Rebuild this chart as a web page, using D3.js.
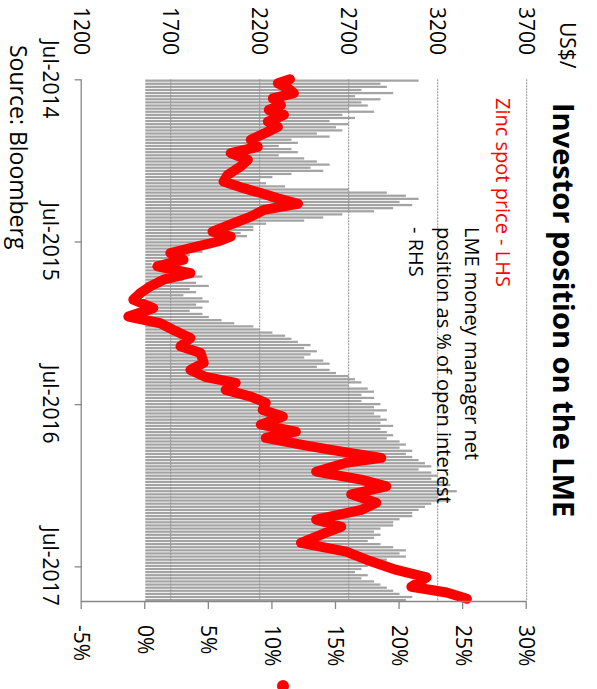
<!DOCTYPE html>
<html><head><meta charset="utf-8">
<script src="https://cdn.jsdelivr.net/npm/d3@7"></script>
<style>body{margin:0;background:#fff}svg{display:block}</style>
</head><body>
<svg id="c" width="597" height="689"></svg>
<script>
// ---------- DATA ----------
const title = "Investor position on the LME";
const leftUnit = "US$/";
const priceLabel = "Zinc spot price - LHS";
const netLabel = ["LME money manager net", "position as % of open interest", "- RHS"];
const sourceText = "Source: Bloomberg";
const leftTicks = [1200, 1700, 2200, 2700, 3200, 3700];
const rightTicks = [-5, 0, 5, 10, 15, 20, 25, 30];
const dateTicks = ["2014-07-01", "2015-07-01", "2016-07-01", "2017-07-01"];
const dateTickLabels = ["Jul-2014", "Jul-2015", "Jul-2016", "Jul-2017"];

// weekly (Fridays) LME money manager net position, % of open interest
const netFirstWeek = "2014-07-04";
const netPosition = [
21.5,18.5,19,17,19.5,16.5,18.5,17,17.5,16,18,15.5,16.5,14.5,16,15,15.5,13.5,14.5,11.5,
12,10.5,11.5,12,10.5,12.5,13.5,14.5,13,14,11.5,10,9,9.5,11,16,19,20.5,21.5,20,
21,19.5,18,15.5,14,12.5,9.5,8.5,8.5,7.5,8,6,5,4.5,3.5,4.5,3.5,2.5,1.5,0.5,
1,2.5,3.5,4.5,3,4,5,3.5,4,3,4.5,5,4,4.5,3.5,4.5,5,6,7,8.5,
9,10,11,11.5,12,13,12.5,13.5,13,12.5,14,14.5,13.5,14.5,15,16,16.5,17,16,17.5,
18,17,18,17,18.5,18,19,18,18.5,19,18.5,19.5,18.5,19,19.5,19,20,20.5,20,21,
20.5,21,21.5,22,22.5,21.5,22.5,23,22.5,23.5,24,23,24.5,23.5,23,24,22.5,22,21.5,21,
21,20,19.5,19.5,18.5,18,18.5,18,17.5,18.5,19.5,20.5,20,20.5,19,18,17.5,17,16.5,17.5,
17,18,18.5,19,19.5,20,21,20.5
];

// zinc spot price, US$/t
const priceDates = [
"2014-07-01","2014-07-10","2014-07-21","2014-08-01","2014-08-13","2014-08-28","2014-09-08","2014-09-19",
"2014-10-04","2014-10-16","2014-10-27","2014-11-14","2014-11-30","2014-12-14","2014-12-29","2015-01-13",
"2015-02-01","2015-02-16","2015-03-03","2015-03-14","2015-03-26","2015-04-07","2015-04-21","2015-05-06",
"2015-05-21","2015-06-09","2015-06-20","2015-07-01","2015-07-16","2015-07-27","2015-08-11","2015-08-26",
"2015-09-10","2015-09-25","2015-10-10","2015-10-25","2015-11-09","2015-11-28","2015-12-17","2016-01-01",
"2016-01-16","2016-02-03","2016-02-22","2016-03-08","2016-03-30","2016-04-15","2016-05-01","2016-05-14",
"2016-05-30","2016-06-14","2016-06-28","2016-07-14","2016-07-29","2016-08-16","2016-09-01","2016-09-15",
"2016-09-30","2016-10-12","2016-10-30","2016-11-10","2016-11-30","2016-12-18","2017-01-02","2017-01-20",
"2017-02-08","2017-02-24","2017-03-18","2017-04-03","2017-04-16","2017-05-09","2017-05-29","2017-06-16",
"2017-07-09","2017-07-26","2017-08-16","2017-08-29","2017-09-12"
];
const priceValues = [
2370,2302,2358,2392,2274,2319,2251,2336,
2246,2302,2246,2150,2189,2037,2133,2093,
2020,1997,2110,2206,2302,2415,2223,2150,
2054,1935,2037,1964,1811,1698,1772,1625,
1811,1659,1585,1529,1490,1602,1462,1642,
1715,1811,1755,1868,1885,1811,1896,2065,
2009,2150,2234,2217,2330,2206,2403,2234,
2432,2601,2883,2686,2517,2770,2911,2714,
2855,2770,2517,2658,2573,2432,2686,2799,
2968,3137,3052,3250,3364
];

// ---------- CHART (drawn landscape, then rotated 90° clockwise) ----------
const W = 689, H = 597;
const parse = d3.timeParse("%Y-%m-%d");
const svg = d3.select("#c");
const g = svg.append("g").attr("transform", `translate(${H},0) rotate(90)`);
const FONT = "'Open Sans', 'DejaVu Sans', sans-serif";

const x = d3.scaleTime().domain([parse("2014-07-01"), parse("2017-09-17")]).range([79.3, 601]);
const yL = d3.scaleLinear().domain([1200, 3700]).range([515.3, 70.3]);
const yR = d3.scaleLinear().domain([-5, 30]).range([515.3, 70.3]);

const first = parse(netFirstWeek);
const weeks = d3.timeFriday.range(first, d3.timeDay.offset(first, 7 * netPosition.length)).slice(0, netPosition.length);
const step = x(weeks[1]) - x(weeks[0]);
const bw = step * 0.72;

// bars
g.append("g").selectAll("rect").data(netPosition).join("rect")
  .attr("x", (d, i) => x(weeks[i]) - bw / 2)
  .attr("width", bw)
  .attr("y", d => Math.min(yR(d), yR(0)))
  .attr("height", d => Math.abs(yR(0) - yR(d)))
  .attr("fill", "#a3a3a3");

// gridlines (left axis)
g.append("g").selectAll("line").data(leftTicks.slice(1)).join("line")
  .attr("x1", 79.3).attr("x2", 601)
  .attr("y1", d => yL(d)).attr("y2", d => yL(d))
  .attr("stroke", "#8f8f8f").attr("stroke-width", 1).attr("stroke-dasharray", "2,1");

// price line
const pts = priceDates.map((d, i) => [parse(d), priceValues[i]]);
g.append("path").datum(pts)
  .attr("d", d3.line().x(d => x(d[0])).y(d => yL(d[1])))
  .attr("fill", "none").attr("stroke", "#ff0000").attr("stroke-width", 10)
  .attr("stroke-linejoin", "round").attr("stroke-linecap", "round");

// x axis
const xAxis = d3.axisBottom(x)
  .tickValues(dateTicks.map(parse))
  .tickSize(7).tickSizeOuter(0).tickFormat("");
const xg = g.append("g").attr("transform", `translate(0,${yR(-5)})`).call(xAxis);
xg.selectAll("path,line").attr("stroke", "#868686").attr("stroke-width", 1.3);
g.append("g").selectAll("text").data(dateTicks).join("text")
  .attr("x", d => x(parse(d))).attr("y", 554)
  .attr("text-anchor", "middle")
  .style("font-family", FONT).style("font-size", "21px").attr("fill", "#000")
  .text((d, i) => dateTickLabels[i]);

// right axis
const rAxis = d3.axisRight(yR).tickValues(rightTicks).tickSize(8).tickSizeOuter(0).tickFormat("");
const rg = g.append("g").attr("transform", `translate(601,0)`).call(rAxis);
rg.selectAll("path,line").attr("stroke", "#868686").attr("stroke-width", 1.3);
g.append("g").selectAll("text").data(rightTicks).join("text")
  .attr("x", 625).attr("y", d => yR(d)).attr("dy", "0.36em")
  .style("font-family", FONT).style("font-size", "21px").attr("fill", "#000")
  .text(d => d + "%");

// left axis labels
g.append("g").selectAll("text").data(leftTicks).join("text")
  .attr("x", 55).attr("y", d => yL(d)).attr("dy", "0.36em")
  .attr("text-anchor", "end")
  .style("font-family", FONT).style("font-size", "21px").attr("fill", "#000")
  .text(d => d);

// texts
g.append("text").attr("x", 22).attr("y", 37).text(leftUnit)
  .style("font-family", FONT).style("font-size", "21px");
g.append("text").attr("x", 103).attr("y", 44).text(title)
  .style("font-family", FONT).style("font-size", "29px").style("font-weight", "bold");
g.append("text").attr("x", 98).attr("y", 101).text(priceLabel)
  .style("font-family", FONT).style("font-size", "20px").attr("fill", "#ff0000");
g.append("g").selectAll("text").data(netLabel).join("text")
  .attr("x", 227).attr("y", (d, i) => 132 + i * 28)
  .style("font-family", FONT).style("font-size", "20px").attr("fill", "#000")
  .text(d => d);
g.append("text").attr("x", 45).attr("y", 587).text(sourceText)
  .style("font-family", FONT).style("font-size", "23px");
g.append("circle").attr("cx", 686).attr("cy", 314).attr("r", 6).attr("fill", "#ff0000");
</script>
</body></html>
